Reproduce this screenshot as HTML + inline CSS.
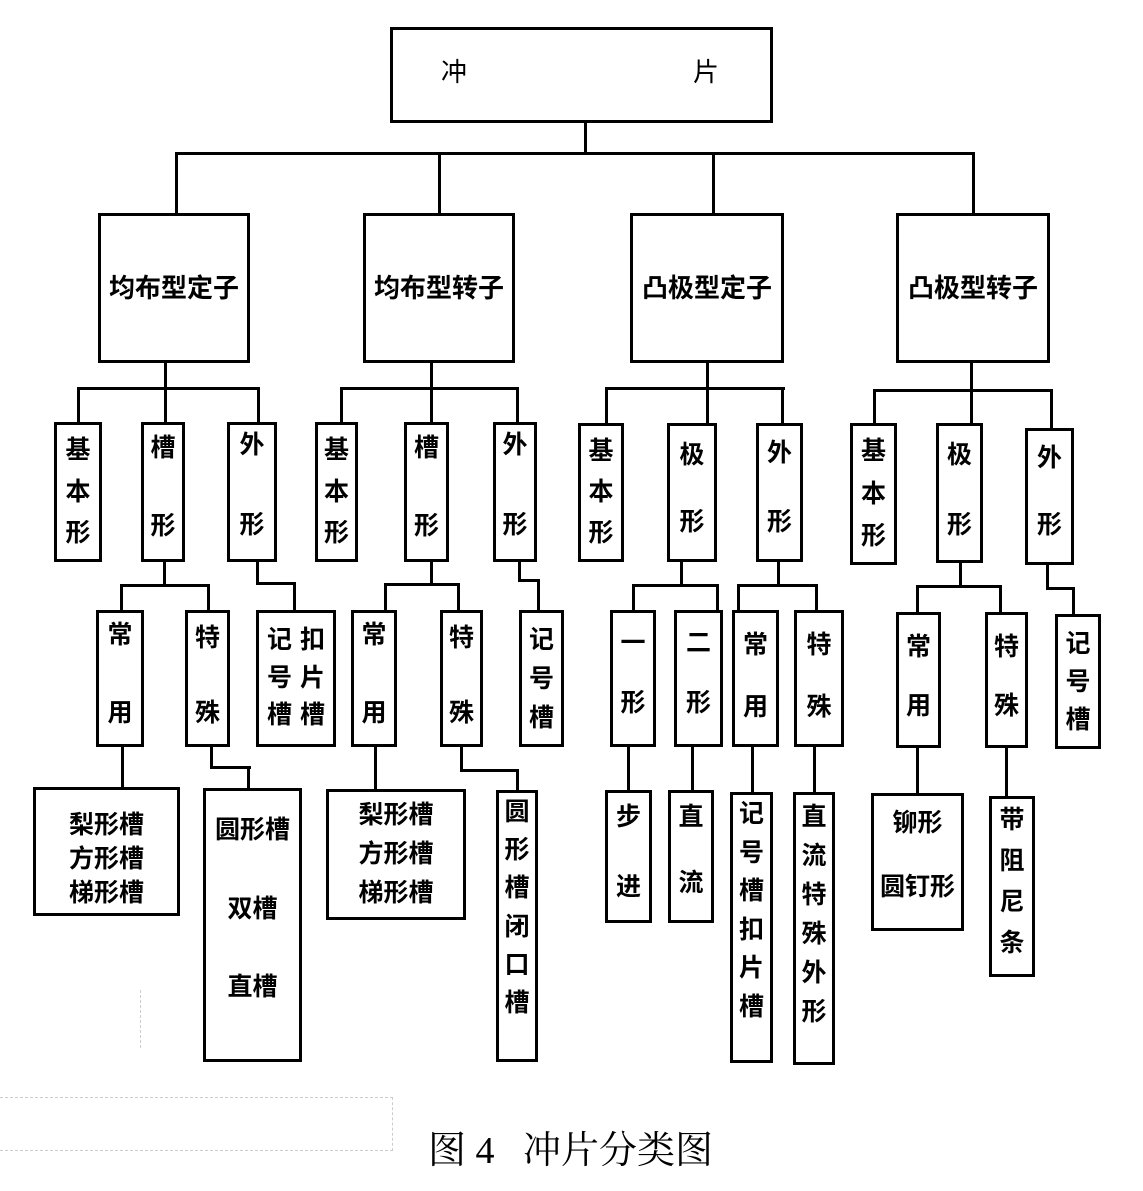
<!DOCTYPE html>
<html><head><meta charset="utf-8"><style>
html,body{margin:0;padding:0;background:#fff;}
body{width:1143px;height:1191px;position:relative;overflow:hidden;font-family:"Liberation Sans","Noto Sans CJK SC",sans-serif;}
.b{position:absolute;box-sizing:border-box;border:3px solid #000;display:flex;flex-direction:column;justify-content:space-between;align-items:center;font-weight:700;font-size:25px;line-height:30px;color:#000;}
.h{position:absolute;background:#000;height:3px;}
.v{position:absolute;background:#000;width:3px;}
.l2{justify-content:center;font-size:26px;}
</style></head><body>

<div class="b" style="left:390px;top:27px;width:383px;height:96px;justify-content:center;">
  <div style="position:absolute;left:48px;top:27px;font-weight:400;font-size:26px;">冲</div>
  <div style="position:absolute;left:300px;top:27px;font-weight:400;font-size:26px;">片</div>
</div>

<div class="b l2" style="left:98px;top:213px;width:152px;height:150px;">均布型定子</div>
<div class="b l2" style="left:363px;top:213px;width:152px;height:150px;">均布型转子</div>
<div class="b l2" style="left:630px;top:213px;width:154px;height:150px;">凸极型定子</div>
<div class="b l2" style="left:896px;top:213px;width:154px;height:150px;">凸极型转子</div>

<div class="b" style="left:54px;top:422px;width:48px;height:140px;padding:10px 0 11px;"><div>基</div><div>本</div><div>形</div></div>
<div class="b" style="left:141px;top:422px;width:44px;height:140px;padding:8px 0 18px;"><div>槽</div><div>形</div></div>
<div class="b" style="left:227px;top:422px;width:50px;height:140px;padding:5px 0 19px;"><div>外</div><div>形</div></div>
<div class="b" style="left:315px;top:422px;width:43px;height:140px;padding:10px 0 11px;"><div>基</div><div>本</div><div>形</div></div>
<div class="b" style="left:404px;top:422px;width:45px;height:140px;padding:8px 0 18px;"><div>槽</div><div>形</div></div>
<div class="b" style="left:493px;top:422px;width:44px;height:140px;padding:5px 0 19px;"><div>外</div><div>形</div></div>
<div class="b" style="left:578px;top:423px;width:46px;height:139px;padding:10px 0 11px;"><div>基</div><div>本</div><div>形</div></div>
<div class="b" style="left:667px;top:423px;width:50px;height:139px;padding:14px 0 22px;"><div>极</div><div>形</div></div>
<div class="b" style="left:756px;top:423px;width:47px;height:139px;padding:12px 0 22px;"><div>外</div><div>形</div></div>
<div class="b" style="left:850px;top:423px;width:47px;height:142px;padding:10px 0 11px;"><div>基</div><div>本</div><div>形</div></div>
<div class="b" style="left:936px;top:423px;width:47px;height:140px;padding:14px 0 20px;"><div>极</div><div>形</div></div>
<div class="b" style="left:1025px;top:428px;width:49px;height:137px;padding:12px 0 22px;"><div>外</div><div>形</div></div>

<div class="b" style="left:96px;top:610px;width:48px;height:137px;padding:7px 0 16px;"><div>常</div><div>用</div></div>
<div class="b" style="left:185px;top:610px;width:45px;height:137px;padding:10px 0 16px;"><div>特</div><div>殊</div></div>
<div class="b" style="left:256px;top:610px;width:80px;height:137px;padding:12px 0 14px;flex-direction:row;justify-content:space-evenly;align-items:stretch;">
  <div style="display:flex;flex-direction:column;justify-content:space-between;"><div>记</div><div>号</div><div>槽</div></div>
  <div style="display:flex;flex-direction:column;justify-content:space-between;"><div>扣</div><div>片</div><div>槽</div></div>
</div>
<div class="b" style="left:351px;top:610px;width:46px;height:137px;padding:7px 0 16px;"><div>常</div><div>用</div></div>
<div class="b" style="left:440px;top:610px;width:43px;height:137px;padding:10px 0 16px;"><div>特</div><div>殊</div></div>
<div class="b" style="left:519px;top:610px;width:45px;height:137px;padding:12px 0 11px;"><div>记</div><div>号</div><div>槽</div></div>
<div class="b" style="left:610px;top:610px;width:46px;height:137px;padding:15px 0 26px;"><div>一</div><div>形</div></div>
<div class="b" style="left:674px;top:610px;width:49px;height:137px;padding:15px 0 26px;"><div>二</div><div>形</div></div>
<div class="b" style="left:732px;top:610px;width:47px;height:137px;padding:17px 0 22px;"><div>常</div><div>用</div></div>
<div class="b" style="left:794px;top:610px;width:50px;height:137px;padding:17px 0 22px;"><div>特</div><div>殊</div></div>
<div class="b" style="left:896px;top:612px;width:45px;height:136px;padding:17px 0 24px;"><div>常</div><div>用</div></div>
<div class="b" style="left:985px;top:612px;width:43px;height:136px;padding:17px 0 24px;"><div>特</div><div>殊</div></div>
<div class="b" style="left:1055px;top:614px;width:46px;height:135px;padding:12px 0 11px;"><div>记</div><div>号</div><div>槽</div></div>

<div class="b" style="left:33px;top:787px;width:147px;height:129px;padding:18px 0 6px;line-height:34px;justify-content:flex-start;"><div>梨形槽</div><div>方形槽</div><div>梯形槽</div></div>
<div class="b" style="left:203px;top:788px;width:99px;height:274px;padding:24px 0 57px;"><div>圆形槽</div><div>双槽</div><div>直槽</div></div>
<div class="b" style="left:326px;top:789px;width:140px;height:131px;padding:8px 0 9px;"><div>梨形槽</div><div>方形槽</div><div>梯形槽</div></div>
<div class="b" style="left:496px;top:790px;width:42px;height:272px;padding:4px 0 41px;"><div>圆</div><div>形</div><div>槽</div><div>闭</div><div>口</div><div>槽</div></div>
<div class="b" style="left:605px;top:790px;width:47px;height:133px;padding:9px 0 18px;"><div>步</div><div>进</div></div>
<div class="b" style="left:668px;top:790px;width:46px;height:133px;padding:9px 0 22px;"><div>直</div><div>流</div></div>
<div class="b" style="left:730px;top:792px;width:43px;height:271px;padding:4px 0 38px;"><div>记</div><div>号</div><div>槽</div><div>扣</div><div>片</div><div>槽</div></div>
<div class="b" style="left:793px;top:792px;width:42px;height:273px;padding:7px 0 35px;"><div>直</div><div>流</div><div>特</div><div>殊</div><div>外</div><div>形</div></div>
<div class="b" style="left:871px;top:793px;width:93px;height:138px;padding:12px 0 26px;"><div>铆形</div><div>圆钉形</div></div>
<div class="b" style="left:989px;top:796px;width:46px;height:181px;padding:6px 0 16px;"><div>带</div><div>阻</div><div>尼</div><div>条</div></div>

<div class="v" style="left:584px;top:122px;height:32px;"></div>
<div class="h" style="left:175px;top:152px;width:800px;"></div>
<div class="v" style="left:175px;top:152px;height:62px;"></div>
<div class="v" style="left:438px;top:152px;height:62px;"></div>
<div class="v" style="left:712px;top:152px;height:62px;"></div>
<div class="v" style="left:972px;top:152px;height:62px;"></div>

<div class="v" style="left:164px;top:362px;height:61px;"></div>
<div class="h" style="left:77px;top:387px;width:183px;"></div>
<div class="v" style="left:77px;top:387px;height:36px;"></div>
<div class="v" style="left:257px;top:387px;height:36px;"></div>
<div class="v" style="left:163px;top:561px;height:25px;"></div>
<div class="h" style="left:120px;top:584px;width:90px;"></div>
<div class="v" style="left:120px;top:584px;height:27px;"></div>
<div class="v" style="left:207px;top:584px;height:27px;"></div>
<div class="v" style="left:256px;top:561px;height:24px;"></div>
<div class="h" style="left:256px;top:582px;width:40px;"></div>
<div class="v" style="left:293px;top:582px;height:29px;"></div>

<div class="v" style="left:430px;top:362px;height:61px;"></div>
<div class="h" style="left:340px;top:387px;width:179px;"></div>
<div class="v" style="left:340px;top:387px;height:36px;"></div>
<div class="v" style="left:516px;top:387px;height:36px;"></div>
<div class="v" style="left:430px;top:561px;height:24px;"></div>
<div class="h" style="left:384px;top:583px;width:76px;"></div>
<div class="v" style="left:384px;top:583px;height:28px;"></div>
<div class="v" style="left:457px;top:583px;height:28px;"></div>
<div class="v" style="left:518px;top:561px;height:21px;"></div>
<div class="h" style="left:518px;top:579px;width:22px;"></div>
<div class="v" style="left:537px;top:579px;height:32px;"></div>

<div class="v" style="left:706px;top:362px;height:62px;"></div>
<div class="h" style="left:605px;top:387px;width:180px;"></div>
<div class="v" style="left:605px;top:387px;height:37px;"></div>
<div class="v" style="left:781px;top:387px;height:37px;"></div>
<div class="v" style="left:680px;top:561px;height:25px;"></div>
<div class="h" style="left:632px;top:584px;width:87px;"></div>
<div class="v" style="left:632px;top:584px;height:27px;"></div>
<div class="v" style="left:716px;top:584px;height:27px;"></div>
<div class="v" style="left:777px;top:561px;height:25px;"></div>
<div class="h" style="left:737px;top:584px;width:81px;"></div>
<div class="v" style="left:737px;top:584px;height:27px;"></div>
<div class="v" style="left:815px;top:584px;height:27px;"></div>

<div class="v" style="left:970px;top:362px;height:62px;"></div>
<div class="h" style="left:873px;top:389px;width:180px;"></div>
<div class="v" style="left:873px;top:389px;height:35px;"></div>
<div class="v" style="left:1050px;top:389px;height:40px;"></div>
<div class="v" style="left:959px;top:562px;height:25px;"></div>
<div class="h" style="left:916px;top:585px;width:86px;"></div>
<div class="v" style="left:916px;top:585px;height:28px;"></div>
<div class="v" style="left:999px;top:585px;height:28px;"></div>
<div class="v" style="left:1046px;top:564px;height:25px;"></div>
<div class="h" style="left:1046px;top:587px;width:29px;"></div>
<div class="v" style="left:1072px;top:587px;height:28px;"></div>

<div class="v" style="left:121px;top:746px;height:42px;"></div>
<div class="v" style="left:210px;top:746px;height:22px;"></div>
<div class="h" style="left:210px;top:766px;width:41px;"></div>
<div class="v" style="left:247px;top:766px;height:23px;"></div>
<div class="v" style="left:374px;top:746px;height:44px;"></div>
<div class="v" style="left:460px;top:746px;height:25px;"></div>
<div class="h" style="left:460px;top:769px;width:59px;"></div>
<div class="v" style="left:516px;top:769px;height:22px;"></div>
<div class="v" style="left:627px;top:746px;height:45px;"></div>
<div class="v" style="left:691px;top:746px;height:45px;"></div>
<div class="v" style="left:751px;top:746px;height:47px;"></div>
<div class="v" style="left:813px;top:746px;height:47px;"></div>
<div class="v" style="left:916px;top:747px;height:47px;"></div>
<div class="v" style="left:1005px;top:747px;height:50px;"></div>

<div style="position:absolute;left:0;top:1097px;width:392px;height:52px;border:1px dashed #ccc;border-left:none;"></div>
<div style="position:absolute;left:0;top:990px;width:140px;height:58px;border-right:1px dashed #ccc;"></div>

<div style="position:absolute;left:428px;top:1128px;font-family:'Liberation Serif','Noto Serif CJK SC',serif;font-size:38px;line-height:46px;white-space:nowrap;">图 4&nbsp;&nbsp;&nbsp;冲片分类图</div>
</body></html>
